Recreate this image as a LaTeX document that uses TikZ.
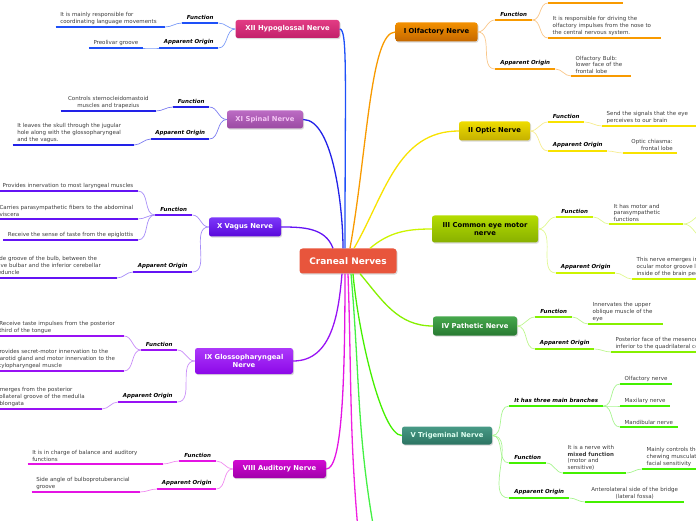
\documentclass[tikz,border=0pt]{standalone}
\usepackage{fontspec}
\setmainfont{DejaVu Sans}
\usetikzlibrary{shadows}

% branch colours (underlines / connectors)
\definecolor{leafgray}{HTML}{3C3C3C}
\definecolor{rootfill}{HTML}{E8553C}
\definecolor{cI}{HTML}{F89A00}    \definecolor{tI}{HTML}{F9C78A}
\definecolor{cII}{HTML}{F8E200}   \definecolor{tII}{HTML}{F6EC90}
\definecolor{cIII}{HTML}{CCF400}  \definecolor{tIII}{HTML}{E0F890}
\definecolor{cIV}{HTML}{86F000}   \definecolor{tIV}{HTML}{BDF68E}
\definecolor{cV}{HTML}{44F000}    \definecolor{tV}{HTML}{A8F490}
\definecolor{cVIII}{HTML}{E414E4} \definecolor{tVIII}{HTML}{F08CF0}
\definecolor{cIX}{HTML}{9812F4}   \definecolor{tIX}{HTML}{C88CF8}
\definecolor{cX}{HTML}{6414F4}    \definecolor{tX}{HTML}{A68CF8}
\definecolor{cXI}{HTML}{2222E8}   \definecolor{tXI}{HTML}{7C7CF0}
\definecolor{cXII}{HTML}{1E50F8}  \definecolor{tXII}{HTML}{7C9CF8}
\definecolor{cVI}{HTML}{44F044}   \definecolor{cVII}{HTML}{F020E0}
% box colours
\definecolor{boxIa}{HTML}{F39000}    \definecolor{boxIb}{HTML}{C46800}
\definecolor{boxIIa}{HTML}{EEDC00}   \definecolor{boxIIb}{HTML}{C4B000}
\definecolor{boxIIIa}{HTML}{B4DC00}  \definecolor{boxIIIb}{HTML}{88B000}
\definecolor{boxIVa}{HTML}{46A84C}   \definecolor{boxIVb}{HTML}{287A32}
\definecolor{boxVa}{HTML}{489A86}    \definecolor{boxVb}{HTML}{2C7462}
\definecolor{boxVIIIa}{HTML}{D20AD2} \definecolor{boxVIIIb}{HTML}{A000AA}
\definecolor{boxIXa}{HTML}{AC38FA}   \definecolor{boxIXb}{HTML}{8C08E8}
\definecolor{boxXa}{HTML}{7C38FA}    \definecolor{boxXb}{HTML}{5A08DA}
\definecolor{boxXIa}{HTML}{BC6CC4}   \definecolor{boxXIb}{HTML}{9A4AA2}
\definecolor{boxXIIa}{HTML}{E23C84}  \definecolor{boxXIIb}{HTML}{C2206A}
\definecolor{textV}{HTML}{DDFFF0}    \definecolor{textXI}{HTML}{F4C6F4}

\tikzset{
  rootbox/.style={fill=rootfill, text=white, rounded corners=3pt,
    minimum width=97pt, minimum height=25pt,
    font=\fontsize{9}{10}\selectfont\bfseries,
    drop shadow={opacity=0.3, shadow xshift=1pt, shadow yshift=-1.2pt}},
  nerve/.style n args={3}{top color=#1, bottom color=#2, text=#3,
    rounded corners=2.5pt, inner sep=1pt, align=center,
    font=\fontsize{6.8}{8.6}\selectfont\bfseries,
    drop shadow={opacity=0.3, shadow xshift=1pt, shadow yshift=-1.2pt}},
  uline/.style={append after command={(\tikzlastnode.south west)
    edge[draw=#1, line width=2.6pt] (\tikzlastnode.south east)}},
  cat/.style={anchor=south west, inner xsep=0pt, inner ysep=3pt,
    font=\fontsize{5.5}{6.6}\selectfont\bfseries\itshape, uline=#1},
  leaf/.style={inner xsep=4.5pt, inner ysep=2.5pt, align=left, text=leafgray,
    font=\fontsize{5.5}{6.6}\selectfont, uline=#1},
  trunk/.style={draw=#1, line width=1.3pt},
  twig/.style={draw=#1, line width=0.7pt},
}

\begin{document}
\begin{tikzpicture}[x=1pt, y=1pt]
  \useasboundingbox (0,0) rectangle (696,520);

  % centre and nerves
  \node[rootbox] (root) at (348,259) {Craneal Nerves};

  \node[nerve={boxIa}{boxIb}{black}, minimum width=82pt, minimum height=19pt] (nI) at (436.5,488) {I Olfactory Nerve};
  \node[nerve={boxIIa}{boxIIb}{black}, minimum width=71pt, minimum height=19pt] (nII) at (494.5,389) {II Optic Nerve};
  \node[nerve={boxIIIa}{boxIIIb}{black}, minimum width=106pt, minimum height=27pt] (nIII) at (485,291) {III Common eye motor\\nerve};
  \node[nerve={boxIVa}{boxIVb}{white}, minimum width=84pt, minimum height=19pt] (nIV) at (475,194) {IV Pathetic Nerve};
  \node[nerve={boxVa}{boxVb}{textV}, minimum width=90pt, minimum height=18pt] (nV) at (447,84.5) {V Trigeminal Nerve};
  \node[nerve={boxVIIIa}{boxVIIIb}{white}, minimum width=93pt, minimum height=18pt] (nVIII) at (279.5,51) {VIII Auditory Nerve};
  \node[nerve={boxIXa}{boxIXb}{white}, minimum width=98pt, minimum height=26pt] (nIX) at (244,159) {IX Glossopharyngeal\\Nerve};
  \node[nerve={boxXa}{boxXb}{white}, minimum width=72pt, minimum height=19pt] (nX) at (245,293) {X Vagus Nerve};
  \node[nerve={boxXIa}{boxXIb}{textXI}, minimum width=76pt, minimum height=18pt] (nXI) at (265,400.5) {XI Spinal Nerve};
  \node[nerve={boxXIIa}{boxXIIb}{white}, minimum width=104pt, minimum height=18pt] (nXII) at (287.5,491) {XII Hypoglossal Nerve};

  % centre to nerves
  \draw[trunk=cXII] ([xshift=-3pt]root.north) to[out=90, in=0, out distance=170pt, in distance=8pt] (nXII.east);
  \draw[trunk=cXI] ([xshift=-5pt]root.north) to[out=90, in=0, out distance=40pt, in distance=30pt] (nXI.east);
  \draw[trunk=cX] ([xshift=-15pt]root.north) to[out=110, in=0] (nX.east);
  \draw[trunk=cIX] ([xshift=-6pt]root.south) to[out=-95, in=0] (nIX.east);
  \draw[trunk=cVIII] ([xshift=-3pt]root.south) to[out=-90, in=0, out distance=120pt, in distance=15pt] (nVIII.east);
  \draw[trunk=cI] ([xshift=2pt]root.north) to[out=80, in=180, out distance=100pt, in distance=25pt] (nI.west);
  \draw[trunk=cII] ([xshift=6pt]root.north) to[out=60, in=180] (nII.west);
  \draw[trunk=cIII] ([xshift=22pt]root.north) to[out=40, in=180] (nIII.west);
  \draw[trunk=cIV] ([xshift=12pt]root.south) to[out=-50, in=180] (nIV.west);
  \draw[trunk=cV] ([xshift=5pt]root.south) to[out=-85, in=180, out distance=60pt, in distance=20pt] (nV.west);
  \coordinate (nVI) at (374,-10);
  \coordinate (nVII) at (358,-10);
  \draw[trunk=cVII] (root.south) to[out=-88, in=95] (nVII);
  \draw[trunk=cVI] ([xshift=3pt]root.south) to[out=-85, in=100] (nVI);

  % I Olfactory
  \node[cat=cI, minimum width=37pt] (fI) at (495,500) {Function};
  \node[cat=cI, minimum width=60pt] (oI) at (495,451) {Apparent Origin};
  \coordinate (lIx) at (548,517);
  \node[leaf=cI, anchor=south west, text width=104pt] (lIa) at (548,482) {It is responsible for driving the\\olfactory impulses from the nose to\\the central nervous system.};
  \node[leaf=cI, anchor=south west, text width=51pt] (lIb) at (571,444) {Olfactory Bulb:\\lower face of the\\frontal lobe};
  \draw[draw=cI, line width=2.6pt] (lIx) -- ++(75,0);
  \draw[twig=tI] (nI.east) to[out=0, in=180] (fI.south west);
  \draw[twig=tI] (nI.east) to[out=0, in=180] (oI.south west);
  \draw[twig=tI] (fI.south east) to[out=0, in=180] (lIx);
  \draw[twig=tI] (fI.south east) to[out=0, in=180] (lIa.south west);
  \draw[twig=tI] (oI.south east) to[out=0, in=180] (lIb.south west);

  % II Optic
  \node[cat=cII, minimum width=36pt] (fII) at (548,398) {Function};
  \node[cat=cII, minimum width=59pt] (oII) at (548,369) {Apparent Origin};
  \node[leaf=cII, anchor=south west, text width=85pt] (lIIa) at (602,394) {Send the signals that the eye\\perceives to our brain};
  \node[leaf=cII, anchor=south west, text width=45pt, align=right] (lIIb) at (623,367) {Optic chiasma:\\frontal lobe};
  \draw[twig=tII] (nII.east) to[out=0, in=180] (fII.south west);
  \draw[twig=tII] (nII.east) to[out=0, in=180] (oII.south west);
  \draw[twig=tII] (fII.south east) to[out=0, in=180] (lIIa.south west);
  \draw[twig=tII] (oII.south east) to[out=0, in=180] (lIIb.south west);

  % III Common eye motor
  \node[cat=cIII, minimum width=37pt] (fIII) at (556,303) {Function};
  \node[cat=cIII, minimum width=59pt] (oIII) at (556,247) {Apparent Origin};
  \node[leaf=cIII, anchor=south west, text width=65pt] (lIIIa) at (609,296) {It has motor and\\parasympathetic\\functions};
  \coordinate (lIIIx) at (706,307);
  \coordinate (lIIIy) at (706,281);
  \node[leaf=cIII, anchor=south west] (lIIIb) at (632,241) {This nerve emerges in the\\ocular motor groove located\\inside of the brain peduncle};
  \draw[twig=tIII] (nIII.east) to[out=0, in=180] (fIII.south west);
  \draw[twig=tIII] (nIII.east) to[out=0, in=180] (oIII.south west);
  \draw[twig=tIII] (fIII.south east) to[out=0, in=180] (lIIIa.south west);
  \draw[twig=tIII] (lIIIa.south east) to[out=0, in=180] (lIIIx);
  \draw[twig=tIII] (lIIIa.south east) to[out=0, in=180] (lIIIy);
  \draw[twig=tIII] (oIII.south east) to[out=0, in=180] (lIIIb.south west);

  % IV Pathetic
  \node[cat=cIV, minimum width=37pt] (fIV) at (535,203) {Function};
  \node[cat=cIV, minimum width=59pt] (oIV) at (535,171) {Apparent Origin};
  \node[leaf=cIV, anchor=south west, text width=66pt] (lIVa) at (588,196) {Innervates the upper\\oblique muscle of the\\eye};
  \node[leaf=cIV, anchor=south west] (lIVb) at (611,168) {Posterior face of the mesencephalon,\\inferior to the quadrilateral colliculi};
  \draw[twig=tIV] (nIV.east) to[out=0, in=180] (fIV.south west);
  \draw[twig=tIV] (nIV.east) to[out=0, in=180] (oIV.south west);
  \draw[twig=tIV] (fIV.south east) to[out=0, in=180] (lIVa.south west);
  \draw[twig=tIV] (oIV.south east) to[out=0, in=180] (lIVb.south west);

  % V Trigeminal
  \node[cat=cV, minimum width=94pt] (bV) at (509,114) {It has three main branches};
  \node[cat=cV, minimum width=37pt] (fV) at (509,57) {Function};
  \node[cat=cV, minimum width=60pt] (oV) at (509,22) {Apparent Origin};
  \node[leaf=cV, anchor=south west] (lVa) at (620,136) {Olfactory nerve};
  \node[leaf=cV, anchor=south west] (lVb) at (620,114) {Maxilary nerve};
  \node[leaf=cV, anchor=south west] (lVc) at (620,93) {Mandibular nerve};
  \node[leaf=cV, anchor=south west, text width=54pt] (lVd) at (563,47) {It is a nerve with\\\textbf{mixed function}\\(motor and\\sensitive)};
  \node[leaf=cV, anchor=south west] (lVe) at (642,51) {Mainly controls the\\chewing musculature and\\facial sensitivity};
  \node[leaf=cV, anchor=south west, text width=90pt, align=center] (lVf) at (585,18) {Anterolateral side of the bridge\\(lateral fossa)};
  \draw[twig=tV] (nV.east) to[out=0, in=180] (bV.south west);
  \draw[twig=tV] (nV.east) to[out=0, in=180] (fV.south west);
  \draw[twig=tV] (nV.east) to[out=0, in=180] (oV.south west);
  \draw[twig=tV] (bV.south east) to[out=0, in=180] (lVa.south west);
  \draw[twig=tV] (bV.south east) to[out=0, in=180] (lVb.south west);
  \draw[twig=tV] (bV.south east) to[out=0, in=180] (lVc.south west);
  \draw[twig=tV] (fV.south east) to[out=0, in=180] (lVd.south west);
  \draw[twig=tV] (lVd.south east) to[out=0, in=180] (lVe.south west);
  \draw[twig=tV] (oV.south east) to[out=0, in=180] (lVf.south west);

  % VIII Auditory
  \node[cat=cVIII, minimum width=37pt] (fVIII) at (179,59) {Function};
  \node[cat=cVIII, minimum width=59pt] (oVIII) at (157,31) {Apparent Origin};
  \node[leaf=cVIII, anchor=south east, text width=126pt] (lVIIIa) at (163,56) {It is in charge of balance and auditory\\functions};
  \node[leaf=cVIII, anchor=south east, text width=99pt] (lVIIIb) at (140,28) {Side angle of bulboprotuberancial\\groove};
  \draw[twig=tVIII] (nVIII.west) to[out=180, in=0] (fVIII.south east);
  \draw[twig=tVIII] (nVIII.west) to[out=180, in=0] (oVIII.south east);
  \draw[twig=tVIII] (fVIII.south west) to[out=180, in=0] (lVIIIa.south east);
  \draw[twig=tVIII] (oVIII.south west) to[out=180, in=0] (lVIIIb.south east);

  % IX Glossopharyngeal
  \node[cat=cIX, minimum width=36pt] (fIX) at (141,170) {Function};
  \node[cat=cIX, minimum width=59pt] (oIX) at (118,118) {Apparent Origin};
  \node[leaf=cIX, anchor=south east, text width=120pt] (lIXa) at (124,184) {Receive taste impulses from the posterior\\third of the tongue};
  \node[leaf=cIX, anchor=south east, text width=123pt] (lIXb) at (124,149) {Provides secret-motor innervation to the\\parotid gland and motor innervation to the\\stylopharyngeal muscle};
  \node[leaf=cIX, anchor=south east, text width=101pt] (lIXc) at (102,111) {Emerges from the posterior\\collateral groove of the medulla\\oblongata};
  \draw[twig=tIX] (nIX.west) to[out=180, in=0] (fIX.south east);
  \draw[twig=tIX] (nIX.west) to[out=180, in=0] (oIX.south east);
  \draw[twig=tIX] (fIX.south west) to[out=180, in=0] (lIXa.south east);
  \draw[twig=tIX] (fIX.south west) to[out=180, in=0] (lIXb.south east);
  \draw[twig=tIX] (oIX.south west) to[out=180, in=0] (lIXc.south east);

  % X Vagus
  \node[cat=cX, minimum width=37pt] (fX) at (155,305) {Function};
  \node[cat=cX, minimum width=59pt] (oX) at (133,248) {Apparent Origin};
  \node[leaf=cX, anchor=south east] (lXa) at (138,329) {Provides innervation to most laryngeal muscles};
  \node[leaf=cX, anchor=south east] (lXb) at (138,301) {Carries parasympathetic fibers to the abdominal\\viscera};
  \node[leaf=cX, anchor=south east] (lXc) at (138,280) {Receive the sense of taste from the epiglottis};
  \node[leaf=cX, anchor=south east, text width=118pt] (lXd) at (117,242) {Side groove of the bulb, between the\\olive bulbar and the inferior cerebellar\\peduncle};
  \draw[twig=tX] (nX.west) to[out=180, in=0] (fX.south east);
  \draw[twig=tX] (nX.west) to[out=180, in=0] (oX.south east);
  \draw[twig=tX] (fX.south west) to[out=180, in=0] (lXa.south east);
  \draw[twig=tX] (fX.south west) to[out=180, in=0] (lXb.south east);
  \draw[twig=tX] (fX.south west) to[out=180, in=0] (lXc.south east);
  \draw[twig=tX] (oX.south west) to[out=180, in=0] (lXd.south east);

  % XI Spinal
  \node[cat=cXI, minimum width=36pt] (fXI) at (173,413) {Function};
  \node[cat=cXI, minimum width=58pt] (oXI) at (151,381) {Apparent Origin};
  \node[leaf=cXI, anchor=south east, text width=86pt, align=center] (lXIa) at (156,409) {Controls sternocleidomastoid\\muscles and trapezius};
  \node[leaf=cXI, anchor=south east, text width=112pt] (lXIb) at (134,375) {It leaves the skull through the jugular\\hole along with the glossopharyngeal\\and the vagus.};
  \draw[twig=tXI] (nXI.west) to[out=180, in=0] (fXI.south east);
  \draw[twig=tXI] (nXI.west) to[out=180, in=0] (oXI.south east);
  \draw[twig=tXI] (fXI.south west) to[out=180, in=0] (lXIa.south east);
  \draw[twig=tXI] (oXI.south west) to[out=180, in=0] (lXIb.south east);

  % XII Hypoglossal
  \node[cat=cXII, minimum width=36pt] (fXII) at (182,497) {Function};
  \node[cat=cXII, minimum width=59pt] (oXII) at (159,472) {Apparent Origin};
  \node[leaf=cXII, anchor=south east, text width=100pt] (lXIIa) at (165,493) {It is mainly responsible for\\coordinating language movements};
  \node[leaf=cXII, anchor=south east] (lXIIb) at (143,472) {Preolivar groove};
  \draw[twig=tXII] (nXII.west) to[out=180, in=0] (fXII.south east);
  \draw[twig=tXII] (nXII.west) to[out=180, in=0] (oXII.south east);
  \draw[twig=tXII] (fXII.south west) to[out=180, in=0] (lXIIa.south east);
  \draw[twig=tXII] (oXII.south west) to[out=180, in=0] (lXIIb.south east);
\end{tikzpicture}
\end{document}
